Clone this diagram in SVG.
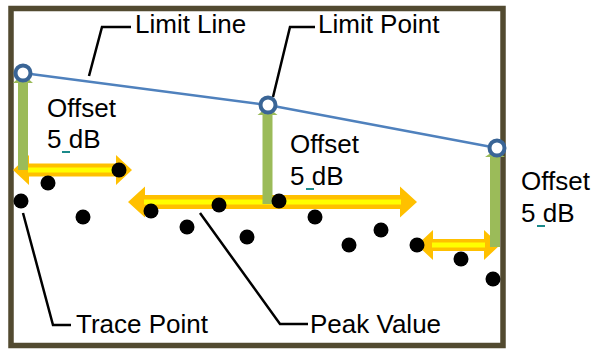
<svg xmlns="http://www.w3.org/2000/svg" width="594" height="349" viewBox="0 0 594 349">
<style>
.lbl{font-family:"Liberation Sans",Arial,sans-serif;font-size:26px;fill:#000}
.lead{fill:none;stroke:#000;stroke-width:2.5}
.dot{fill:#000}
.lp{fill:#fff;stroke:#3a6596;stroke-width:4}
.grn{fill:#9bbb59}
.org{fill:#ffc000}
.yel{stroke:#ffff00;stroke-width:5}
.dash{fill:#1b8a8a}
</style>
<rect width="594" height="349" fill="#fff"/>
<rect id="frame" x="11" y="8.5" width="492" height="337" fill="none" stroke="#524a30" stroke-width="5.5"/>
<g id="connectors">
<path class="lead" d="M89,76 L102,27 L131,27"/>
<path class="lead" d="M273,97 L290,27 L315,27"/>
<path class="lead" d="M23,213 L53,325 L71,325"/>
<path class="lead" d="M200,213 L280,324 L308,324"/>
</g>
<g id="peak-spans">
<polygon class="org" points="13,170 29,155 29,163.5 116,163.5 116,155 132,170 116,185 116,176.5 29,176.5 29,185"/>
<line class="yel" x1="28" y1="170" x2="117" y2="170"/>
<polygon class="org" points="128,202 145,186.5 145,195 400,195 400,186.5 417,202 400,217.5 400,209 145,209 145,217.5"/>
<line class="yel" x1="144" y1="202" x2="401" y2="202"/>
<polygon class="org" points="417,245 433,230 433,239 484,239 484,230 500,245 484,260 484,251 433,251 433,260"/>
<line class="yel" x1="432" y1="245" x2="485" y2="245"/>
</g>
<g id="offset-arrows">
<polygon class="grn" points="23,74 33,83 28,83 28,170 18,170 18,83 13,83"/>
<polygon class="grn" points="267.5,107 277.5,115 272.5,115 272.5,204 262.5,204 262.5,115 257.5,115"/>
<polygon class="grn" points="495,150 505,157 500,157 500,247 490,247 490,157 485,157"/>
</g>
<g id="limit-line">
<polyline points="23,73 268,105 497,148" fill="none" stroke="#4f81bd" stroke-width="2.5"/>
<circle class="lp" cx="23" cy="73" r="7.5"/>
<circle class="lp" cx="268" cy="105" r="7.5"/>
<circle class="lp" cx="497" cy="148" r="7.5"/>
</g>
<g id="trace-points">
<circle class="dot" cx="119" cy="170" r="7.5"/>
<circle class="dot" cx="48" cy="183" r="7.5"/>
<circle class="dot" cx="21" cy="201" r="7.5"/>
<circle class="dot" cx="83" cy="217" r="7.5"/>
<circle class="dot" cx="151" cy="211" r="7.5"/>
<circle class="dot" cx="187" cy="227" r="7.5"/>
<circle class="dot" cx="219" cy="205" r="7.5"/>
<circle class="dot" cx="247" cy="237" r="7.5"/>
<circle class="dot" cx="279" cy="201" r="7.5"/>
<circle class="dot" cx="315" cy="217" r="7.5"/>
<circle class="dot" cx="349" cy="245" r="7.5"/>
<circle class="dot" cx="381" cy="230" r="7.5"/>
<circle class="dot" cx="417" cy="245" r="7.5"/>
<circle class="dot" cx="461" cy="259" r="7.5"/>
<circle class="dot" cx="493" cy="279" r="7.5"/>
</g>
<g id="label-limit-line"><text class="lbl" x="135" y="33">Limit Line</text></g>
<g id="label-limit-point"><text class="lbl" x="318" y="33">Limit Point</text></g>
<g id="label-trace-point"><text class="lbl" x="76" y="333">Trace Point</text></g>
<g id="label-peak-value"><text class="lbl" x="310" y="333">Peak Value</text></g>
<g id="offset-1">
<text class="lbl" x="47" y="116.5">Offset</text>
<text class="lbl" x="47" y="148">5 dB</text>
<rect class="dash" x="62" y="151" width="8" height="2"/>
</g>
<g id="offset-2">
<text class="lbl" x="290" y="153">Offset</text>
<text class="lbl" x="290" y="185">5 dB</text>
<rect class="dash" x="306" y="188" width="8" height="2"/>
</g>
<g id="offset-3">
<text class="lbl" x="521" y="190">Offset</text>
<text class="lbl" x="521" y="222">5 dB</text>
<rect class="dash" x="537" y="225" width="8" height="2"/>
</g>
</svg>
